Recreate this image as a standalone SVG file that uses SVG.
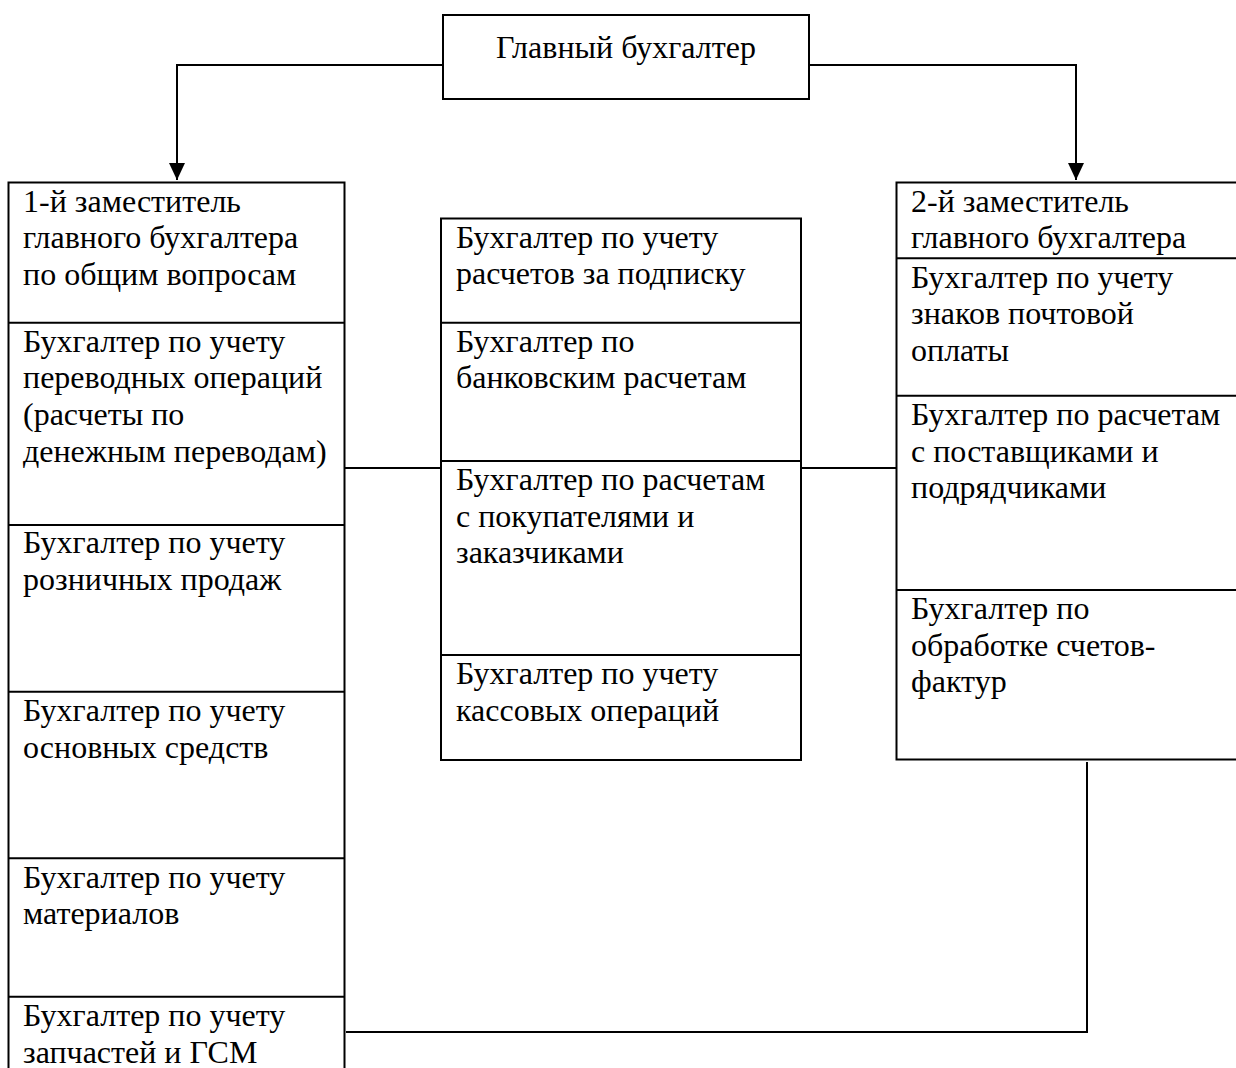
<svg xmlns="http://www.w3.org/2000/svg" width="1236" height="1068" viewBox="0 0 1236 1068">
<style>
.box{fill:#fff;stroke:#000;stroke-width:2}
.div{stroke:#000;stroke-width:2}
.con{fill:none;stroke:#000;stroke-width:2}
text{font-family:"Liberation Serif","Times New Roman",serif;font-size:32px;fill:#000}
</style>
<defs>
<marker id="arr" markerUnits="userSpaceOnUse" markerWidth="16" markerHeight="18" viewBox="0 0 16 18" refX="8" refY="17" orient="auto-start-reverse">
<path d="M0,0 L16,0 L8,17 Z" fill="#000" transform="rotate(0)"/>
</marker>
<marker id="arrdown" markerUnits="userSpaceOnUse" markerWidth="16" markerHeight="18" viewBox="0 0 16 18" refX="17" refY="8" orient="auto">
<path d="M0,0 L17,8 L0,16 Z" fill="#000"/>
</marker>
</defs>
<rect width="1236" height="1068" fill="#fff"/>
<g id="connectors">
<path class="con" d="M443,65 H177 V180" marker-end="url(#arrdown)"/>
<path class="con" d="M809,65 H1076 V180" marker-end="url(#arrdown)"/>
<path class="con" d="M345,468 H441"/>
<path class="con" d="M801,468 H896"/>
<path class="con" d="M346,1032 H1087 V762"/>
</g>
<g id="chief">
<rect class="box" x="443" y="15" width="366" height="84"/>
<text x="626" y="58" text-anchor="middle">Главный бухгалтер</text>
</g>
<g id="left-column">
<rect class="box" x="8.5" y="182.5" width="336" height="900"/>
<line class="div" x1="8.5" y1="322.7" x2="344.5" y2="322.7"/>
<line class="div" x1="8.5" y1="525" x2="344.5" y2="525"/>
<line class="div" x1="8.5" y1="691.7" x2="344.5" y2="691.7"/>
<line class="div" x1="8.5" y1="858.3" x2="344.5" y2="858.3"/>
<line class="div" x1="8.5" y1="996.7" x2="344.5" y2="996.7"/>
<text x="23" y="211.7">1-й заместитель</text>
<text x="23" y="248.3">главного бухгалтера</text>
<text x="23" y="285">по общим вопросам</text>
<text x="23" y="351.7">Бухгалтер по учету</text>
<text x="23" y="388.3">переводных операций</text>
<text x="23" y="425">(расчеты по</text>
<text x="23" y="461.7">денежным переводам)</text>
<text x="23" y="553.3">Бухгалтер по учету</text>
<text x="23" y="590">розничных продаж</text>
<text x="23" y="721">Бухгалтер по учету</text>
<text x="23" y="757.7">основных средств</text>
<text x="23" y="887.7">Бухгалтер по учету</text>
<text x="23" y="924.3">материалов</text>
<text x="23" y="1026">Бухгалтер по учету</text>
<text x="23" y="1062.7">запчастей и ГСМ</text>
</g>
<g id="middle-column">
<rect class="box" x="441" y="218.5" width="360" height="541.5"/>
<line class="div" x1="441" y1="322.7" x2="801" y2="322.7"/>
<line class="div" x1="441" y1="461" x2="801" y2="461"/>
<line class="div" x1="441" y1="655" x2="801" y2="655"/>
<text x="456" y="247.5">Бухгалтер по учету</text>
<text x="456" y="284.2">расчетов за подписку</text>
<text x="456" y="351.7">Бухгалтер по</text>
<text x="456" y="388.3">банковским расчетам</text>
<text x="456" y="490">Бухгалтер по расчетам</text>
<text x="456" y="526.7">с покупателями и</text>
<text x="456" y="563.3">заказчиками</text>
<text x="456" y="684">Бухгалтер по учету</text>
<text x="456" y="720.7">кассовых операций</text>
</g>
<g id="right-column">
<rect class="box" x="896.5" y="182.5" width="360" height="577"/>
<line class="div" x1="896.5" y1="258.3" x2="1240" y2="258.3"/>
<line class="div" x1="896.5" y1="395.7" x2="1240" y2="395.7"/>
<line class="div" x1="896.5" y1="590" x2="1240" y2="590"/>
<text x="911" y="211.7">2-й заместитель</text>
<text x="911" y="248.3">главного бухгалтера</text>
<text x="911" y="287.7">Бухгалтер по учету</text>
<text x="911" y="324.3">знаков почтовой</text>
<text x="911" y="361">оплаты</text>
<text x="911" y="425">Бухгалтер по расчетам</text>
<text x="911" y="461.7">с поставщиками и</text>
<text x="911" y="498.3">подрядчиками</text>
<text x="911" y="619">Бухгалтер по</text>
<text x="911" y="655.7">обработке счетов-</text>
<text x="911" y="692.3">фактур</text>
</g>
</svg>
